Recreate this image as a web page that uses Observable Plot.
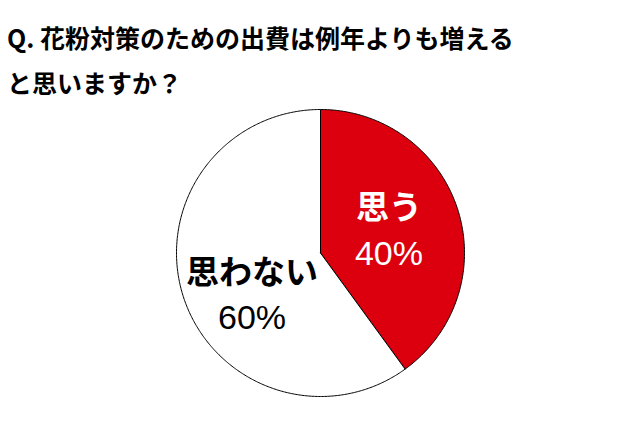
<!DOCTYPE html>
<html>
<head>
<meta charset="utf-8">
<script src="https://cdn.jsdelivr.net/npm/d3@7"></script>
<script src="https://cdn.jsdelivr.net/npm/@observablehq/plot@0.6"></script>
<style>
  html, body { margin: 0; padding: 0; background: #fff; width: 640px; height: 426px; overflow: hidden; }
  #title { font-family: "Noto Sans CJK JP", sans-serif; font-weight: bold; font-size: 25px; line-height: 45px;
           color: #000; padding: 15px 0 0 7px; height: 90px; letter-spacing: 0px; }
  #chart svg { display: block; }
</style>
</head>
<body>
<div id="title"></div>
<div id="chart"></div>
<script>
const titleLines = ["Q. 花粉対策のための出費は例年よりも増える", "と思いますか？"];
const categories = ["思う", "思わない"];
const values = [40, 60];
const sliceColors = ["#dc000f", "#ffffff"];
const textColors = ["#ffffff", "#000000"];

document.getElementById("title").innerHTML = titleLines.join("<br>");

const arcs = d3.pie().sort(null).value(d => d)(values);
const pts = [];
arcs.forEach((a, i) => {
  const key = categories[i];
  pts.push({key, x: 0, y: 0});
  const n = Math.max(2, Math.ceil((a.endAngle - a.startAngle) / 0.01));
  for (let k = 0; k <= n; k++) {
    const t = a.startAngle + (a.endAngle - a.startAngle) * k / n;
    pts.push({key, x: Math.sin(t), y: Math.cos(t)});
  }
  pts.push({key, x: 0, y: 0});
});

// label anchors at the slice mid-angle
const labelRadius = 0.5;
const labelShift = [0, -0.14]; // extra vertical shift (data units) per slice
const labels = arcs.map((a, i) => {
  const m = (a.startAngle + a.endAngle) / 2;
  return {
    name: categories[i],
    pct: values[i] + "%",
    x: labelRadius * Math.sin(m),
    y: labelRadius * Math.cos(m) + labelShift[i],
    i
  };
});

const marks = [
  Plot.line(pts, {x: "x", y: "y", z: "key", fill: "key", stroke: "#000", strokeWidth: 1, curve: "linear"})
];
labels.forEach((l) => {
  marks.push(Plot.text([l], {x: "x", y: "y", text: "name", dy: -22, fill: textColors[l.i],
    fontSize: 33, fontWeight: "bold", fontFamily: "Noto Sans CJK JP"}));
  marks.push(Plot.text([l], {x: "x", y: "y", text: "pct", dy: 23, fill: textColors[l.i],
    fontSize: 34, fontWeight: "normal", fontFamily: "Liberation Sans"}));
});

const chart = Plot.plot({
  width: 640,
  height: 321,
  margin: 0,
  x: {domain: [-1, 1], range: [176, 464], axis: null},
  y: {domain: [-1, 1], range: [291, 4], axis: null},
  color: {domain: categories, range: sliceColors},
  style: {background: "#fff"},
  marks
});
document.getElementById("chart").appendChild(chart);
</script>
</body>
</html>
